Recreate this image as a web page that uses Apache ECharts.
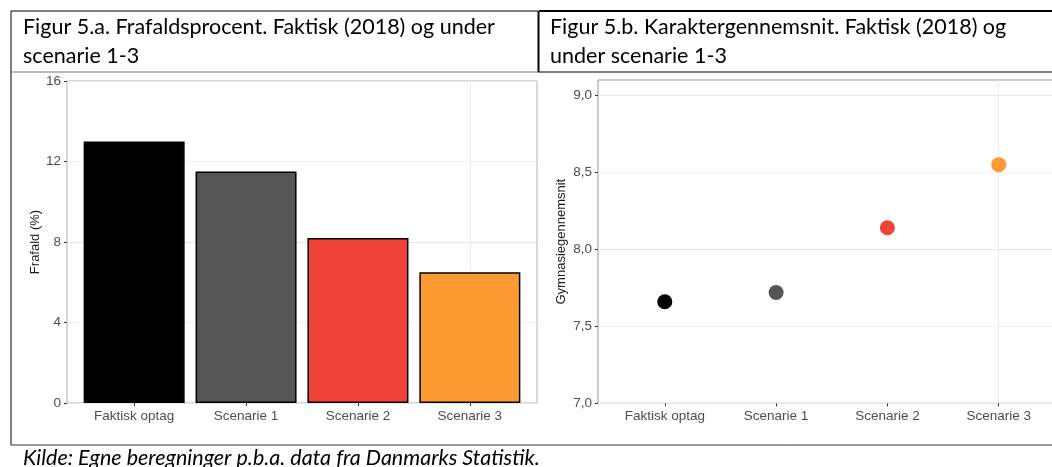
<!DOCTYPE html>
<html>
<head>
<meta charset="utf-8">
<script src="https://cdn.jsdelivr.net/npm/echarts@6/dist/echarts.min.js"></script>
<style>
html, body { margin: 0; padding: 0; background: #fff; }
#main { width: 1052px; height: 467px; }
</style>
</head>
<body>
<div id="main"></div>
<script>
// data
var categories = ['Faktisk optag', 'Scenarie 1', 'Scenarie 2', 'Scenarie 3'];
var frafald = [13.0, 11.5, 8.2, 6.5];
var karakter = [7.66, 7.72, 8.14, 8.55];
var colors = ['#000000', '#555555', '#f04236', '#fd9b32'];
var frafaldTicks = [0, 4, 8, 12, 16];
var karakterTicks = [7.0, 7.5, 8.0, 8.5, 9.0];
var catPos = [1, 2, 3, 4];

var titleA = ['Figur 5.a. Frafaldsprocent. Faktisk (2018) og under', 'scenarie 1-3'];
var titleB = ['Figur 5.b. Karaktergennemsnit. Faktisk (2018) og', 'under scenarie 1-3'];
var kilde = 'Kilde: Egne beregninger p.b.a. data fra Danmarks Statistik.';

var axisFont = 'Liberation Sans';
var docFont = 'Lato';
var clear = 'rgba(0,0,0,0)';

function xAxisFor(gi) {
	return {
		type: 'value', gridIndex: gi, min: 0.4, max: 4.6, interval: 0.2,
		axisLine: { show: false },
		axisTick: { show: true, customValues: catPos, length: 3, lineStyle: { color: '#333' } },
		axisLabel: {
			customValues: catPos, margin: 6, color: '#4d4d4d', fontFamily: axisFont, fontSize: 13.5,
			formatter: function(v) { return categories[Math.round(v) - 1]; }
		},
		// only the lines on the category centres are visible
		splitLine: { show: true, lineStyle: { color: [clear, clear, clear, '#ebebeb', clear], width: 1 } }
	};
}

var barData = frafald.map(function(v, i) {
	return { value: [catPos[i], v], itemStyle: { color: colors[i] } };
});
var dotData = karakter.map(function(v, i) {
	return { value: [catPos[i], v], itemStyle: { color: colors[i], opacity: 1 } };
});

function hline(x1, x2, y, color, w) {
	return { type: 'line', shape: { x1: x1, y1: y, x2: x2, y2: y }, style: { stroke: color, lineWidth: w } };
}
function vline(x, y1, y2, color, w) {
	return { type: 'line', shape: { x1: x, y1: y1, x2: x, y2: y2 }, style: { stroke: color, lineWidth: w } };
}
function txt(x, y, s, extra) {
	var st = { x: x, y: y, text: s, fill: '#000', font: '21.5px ' + docFont, textVerticalAlign: 'middle' };
	if (extra) for (var k in extra) st[k] = extra[k];
	return { type: 'text', style: st };
}

var option = {
	animation: false,
	backgroundColor: '#fff',
	grid: [
		{ left: 67, top: 81, width: 470, height: 322, outerBoundsMode: 'none', show: true, borderColor: '#b3b3b3', borderWidth: 1, backgroundColor: '#fff' },
		// the right panel runs past the edge of the picture
		{ left: 598, top: 80, width: 467.5, height: 323.3, outerBoundsMode: 'none', show: true, borderColor: '#999', borderWidth: 1, backgroundColor: '#fff' }
	],
	xAxis: [xAxisFor(0), xAxisFor(1)],
	yAxis: [{
		type: 'value', gridIndex: 0, min: 0, max: 16, interval: 2,
		name: 'Frafald (%)', nameLocation: 'middle', nameGap: 23,
		nameTextStyle: { color: '#1a1a1a', fontFamily: axisFont, fontSize: 13 },
		axisLine: { show: false },
		axisTick: { show: true, customValues: frafaldTicks, length: 3, lineStyle: { color: '#333' } },
		axisLabel: { customValues: frafaldTicks, margin: 6, color: '#4d4d4d', fontFamily: axisFont, fontSize: 13.5 },
		splitLine: { show: true, lineStyle: { color: ['#e6e6e6', '#f3f3f3'], width: 1 } }
	}, {
		type: 'value', gridIndex: 1, min: 7, max: 9.1, interval: 0.25,
		name: 'Gymnasiegennemsnit', nameLocation: 'middle', nameGap: 30,
		nameTextStyle: { color: '#1a1a1a', fontFamily: axisFont, fontSize: 13 },
		axisLine: { show: false },
		axisTick: { show: true, customValues: karakterTicks, length: 3, lineStyle: { color: '#333' } },
		axisLabel: {
			customValues: karakterTicks, margin: 6, color: '#4d4d4d', fontFamily: axisFont, fontSize: 13.5,
			formatter: function(v) { return v.toFixed(1).replace('.', ','); }
		},
		splitLine: { show: true, lineStyle: { color: ['#e6e6e6', '#f3f3f3'], width: 1 } }
	}],
	series: [{
		type: 'bar', xAxisIndex: 0, yAxisIndex: 0,
		data: barData, barWidth: 101,
		itemStyle: { borderColor: '#000', borderWidth: 1.5 }
	}, {
		type: 'scatter', xAxisIndex: 1, yAxisIndex: 1,
		data: dotData, symbolSize: 15
	}],
	graphic: [
		// table lines
		hline(11, 538, 11, '#000', 1),
		hline(539, 1052, 11, '#000', 2),
		vline(11, 11, 445, '#000', 1),
		vline(538.5, 11, 72, '#000', 2),
		hline(11, 538, 72, '#777', 1),
		hline(538, 1052, 72, '#000', 1),
		hline(11, 1052, 445, '#333', 1),
		// titles
		txt(23, 27, titleA[0]),
		txt(23, 56, titleA[1]),
		txt(550, 27, titleB[0]),
		txt(550, 56, titleB[1]),
		txt(23, 458, kilde, { font: 'italic 21.5px ' + docFont })
	]
};

var myChart = echarts.init(document.getElementById('main'));
myChart.setOption(option);
</script>
</body>
</html>
